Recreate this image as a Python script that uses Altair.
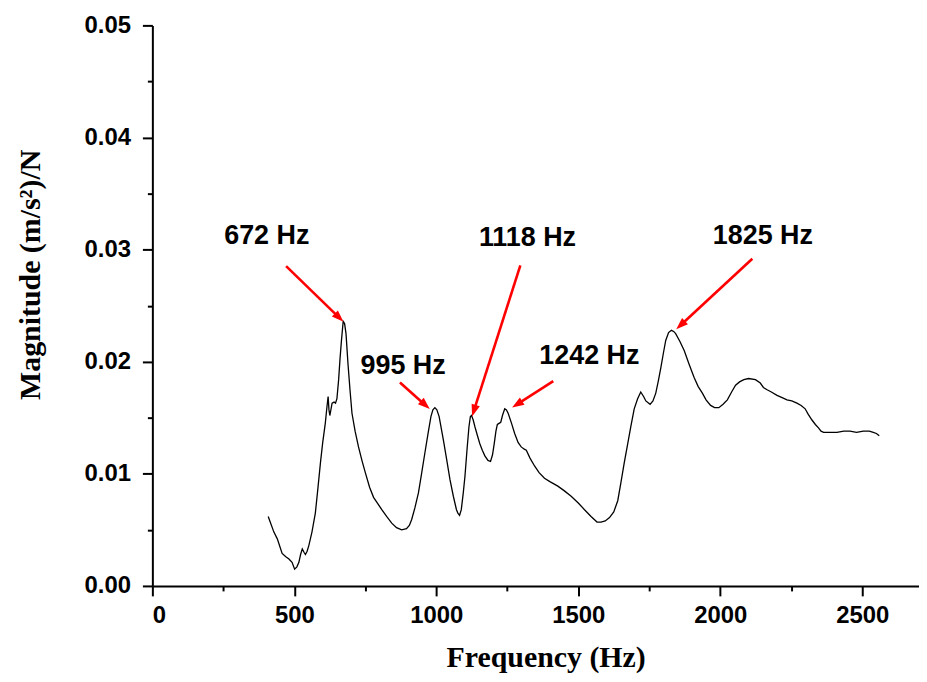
import math
import altair as alt
import pandas as pd

# ---- data ----
freq = [408, 415, 428, 440, 457, 470, 481, 492, 501, 509, 516, 522, 528, 534, 539, 545, 551, 562, 574, 583,
        592, 600, 609, 615, 619, 622, 625, 633, 640, 645, 650, 656, 661, 666, 672, 677, 682, 689, 696, 703,
        714, 726, 738, 750, 765, 779, 795, 808, 825, 843, 860, 878, 895, 905, 913, 925, 937, 948, 960, 971,
        981, 988, 995, 1002, 1010, 1025, 1037, 1048, 1060, 1071, 1076, 1082, 1088, 1095, 1101, 1108, 1115, 1120, 1124, 1130,
        1136, 1145, 1153, 1162, 1171, 1182, 1191, 1198, 1204, 1210, 1215, 1221, 1227, 1233, 1241, 1247, 1253, 1265, 1276, 1288,
        1299, 1310, 1317, 1330, 1346, 1362, 1381, 1400, 1428, 1450, 1475, 1500, 1522, 1545, 1566, 1580, 1595, 1610, 1625, 1639,
        1650, 1662, 1675, 1685, 1697, 1709, 1720, 1730, 1738, 1753, 1763, 1773, 1782, 1791, 1800, 1808, 1818, 1828, 1836, 1843,
        1858, 1873, 1890, 1908, 1922, 1937, 1950, 1966, 1980, 1995, 2010, 2025, 2040, 2054, 2068, 2083, 2100, 2124, 2141, 2152,
        2165, 2180, 2200, 2218, 2235, 2252, 2270, 2285, 2299, 2310, 2323, 2335, 2346, 2355, 2364, 2390, 2411, 2435, 2457, 2480,
        2504, 2525, 2539, 2550, 2560]
mag = [0.0062, 0.0057, 0.0048, 0.0042, 0.0029, 0.0026, 0.0024, 0.0021, 0.0015, 0.0017, 0.0021, 0.0028, 0.0033, 0.0030, 0.0028, 0.0031, 0.0036, 0.0048, 0.0065, 0.0087,
       0.0110, 0.0128, 0.0145, 0.0160, 0.0169, 0.0157, 0.0152, 0.0163, 0.0164, 0.0163, 0.0167, 0.0184, 0.0203, 0.0219, 0.0236, 0.0234, 0.0225, 0.0198, 0.0175, 0.0154,
       0.0138, 0.0124, 0.0112, 0.0101, 0.0088, 0.0079, 0.0073, 0.0068, 0.0062, 0.0056, 0.0052, 0.0050, 0.0051, 0.0054, 0.0059, 0.0070, 0.0083, 0.0100, 0.0119, 0.0136,
       0.0151, 0.0157, 0.0159, 0.0157, 0.0151, 0.0130, 0.0112, 0.0095, 0.0080, 0.0068, 0.0065, 0.0063, 0.0068, 0.0083, 0.0098, 0.0121, 0.0142, 0.0151, 0.0152, 0.0148,
       0.0142, 0.0134, 0.0127, 0.0121, 0.0116, 0.0112, 0.0111, 0.0117, 0.0127, 0.0138, 0.0144, 0.0145, 0.0146, 0.0152, 0.0158, 0.0157, 0.0154, 0.0145, 0.0136, 0.0128,
       0.0124, 0.0122, 0.0121, 0.0114, 0.0107, 0.0101, 0.0096, 0.0093, 0.0089, 0.0085, 0.0080, 0.0074, 0.0068, 0.0062, 0.0057, 0.0057, 0.0058, 0.0061, 0.0066, 0.0076,
       0.0092, 0.0110, 0.0128, 0.0142, 0.0158, 0.0167, 0.0173, 0.0169, 0.0165, 0.0162, 0.0165, 0.0172, 0.0183, 0.0195, 0.0208, 0.0219, 0.0226, 0.0228, 0.0227, 0.0225,
       0.0218, 0.0210, 0.0198, 0.0186, 0.0178, 0.0172, 0.0166, 0.0161, 0.0159, 0.0159, 0.0162, 0.0166, 0.0173, 0.0179, 0.0182, 0.0184, 0.0185, 0.0184, 0.0181, 0.0177,
       0.0175, 0.0173, 0.0170, 0.0168, 0.0166, 0.0165, 0.0163, 0.0161, 0.0158, 0.0153, 0.0148, 0.0144, 0.0141, 0.0138, 0.0137, 0.0137, 0.0137, 0.0138, 0.0138, 0.0137,
       0.0138, 0.0138, 0.0137, 0.0136, 0.0134]

labels = ["672 Hz", "995 Hz", "1118 Hz", "1242 Hz", "1825 Hz"]
label_x = [403, 883, 1321, 1539, 2150]
label_y = [0.0312, 0.0196, 0.0310, 0.0205, 0.0312]
arrow_x1 = [471, 872, 1296, 1412, 2113]
arrow_y1 = [0.02853, 0.01814, 0.02860, 0.01827, 0.02919]
arrow_x2 = [673, 977, 1126, 1267, 1845]
arrow_y2 = [0.02356, 0.01578, 0.01512, 0.01592, 0.02289]

x_ticks = list(range(0, 2501, 250))
y_ticks = [round(i * 0.005, 3) for i in range(11)]

# ---- layout ----
W, H = 770, 563
XMAX, YMAX = 2700, 0.05
px_x = W / XMAX
px_y = H / YMAX
HEAD = 12  # arrow head length in px

rows = []
for i in range(len(labels)):
    dx = (arrow_x2[i] - arrow_x1[i]) * px_x
    dy = -(arrow_y2[i] - arrow_y1[i]) * px_y
    L = math.hypot(dx, dy)
    ux, uy = dx / L, dy / L
    ang = math.degrees(math.atan2(ux, -uy)) % 360
    rows.append(dict(
        x1=arrow_x1[i], y1=arrow_y1[i],
        x2=arrow_x2[i] - ux * (HEAD - 2) / px_x, y2=arrow_y2[i] + uy * (HEAD - 2) / px_y,
        tx=arrow_x2[i], ty=arrow_y2[i], angle=ang))
arrows = pd.DataFrame(rows)
curve = pd.DataFrame({"f": freq, "m": mag})
texts = pd.DataFrame({"x": label_x, "y": label_y, "t": labels})

xs = alt.Scale(domain=[0, XMAX], nice=False)
ys = alt.Scale(domain=[0, YMAX], nice=False)

xaxis = alt.Axis(
    values=x_ticks, format="d",
    labelExpr="datum.value % 500 === 0 ? datum.label : ''",
    tickSize={"condition": {"test": "datum.value % 500 === 0", "value": 10}, "value": 5},
    title="Frequency (Hz)", titleX=395, titleY=81, titleBaseline="alphabetic", titleAlign="center",
    labelPadding=8, labelBaseline="top", grid=False,
)
yaxis = alt.Axis(
    values=y_ticks, format=".2f",
    labelExpr="round(datum.value * 1000) % 10 === 0 ? datum.label : ''",
    tickSize={"condition": {"test": "round(datum.value * 1000) % 10 === 0", "value": 10}, "value": 5},
    title="Magnitude (m/s²)/N", titleX=-122, titleY=250, titleBaseline="middle", titleAlign="center",
    titleAngle=270, labelPadding=12, grid=False,
)

line = alt.Chart(curve).mark_line(color="black", strokeWidth=1.3).encode(
    x=alt.X("f:Q", scale=xs, axis=xaxis),
    y=alt.Y("m:Q", scale=ys, axis=yaxis),
)

rules = alt.Chart(arrows).mark_rule(color="#ff0000", strokeWidth=2.6).encode(
    x=alt.X("x1:Q", scale=xs, axis=xaxis), y=alt.Y("y1:Q", scale=ys, axis=yaxis),
    x2="x2:Q", y2="y2:Q",
)

heads = alt.Chart(arrows).mark_point(
    shape="M0,0L0.36,1L-0.36,1Z", filled=True, color="#ff0000", opacity=1, size=HEAD * HEAD * 4,
).encode(
    x=alt.X("tx:Q", scale=xs, axis=xaxis), y=alt.Y("ty:Q", scale=ys, axis=yaxis),
    angle=alt.Angle("angle:Q", scale=None),
)

text = alt.Chart(texts).mark_text(
    font="Liberation Sans", fontWeight="bold", fontSize=27, color="black",
    align="center", baseline="middle",
).encode(
    x=alt.X("x:Q", scale=xs, axis=xaxis), y=alt.Y("y:Q", scale=ys, axis=yaxis), text="t:N",
)

chart = alt.layer(line, rules, heads, text).properties(
    width=W, height=H,
    autosize=alt.AutoSizeParams(type="none"),
    padding={"left": 145, "top": 16, "right": 0, "bottom": 87},
).configure_view(stroke=None).configure_axis(
    domainColor="black", domainWidth=2, tickColor="black", tickWidth=2,
    labelFont="Liberation Sans", labelFontWeight="bold", labelFontSize=24, labelColor="black",
    titleFont="Liberation Serif", titleFontWeight="bold", titleFontSize=30, titleColor="black",
)

chart.save("out.html", embed_options={"renderer": "svg", "actions": False})
